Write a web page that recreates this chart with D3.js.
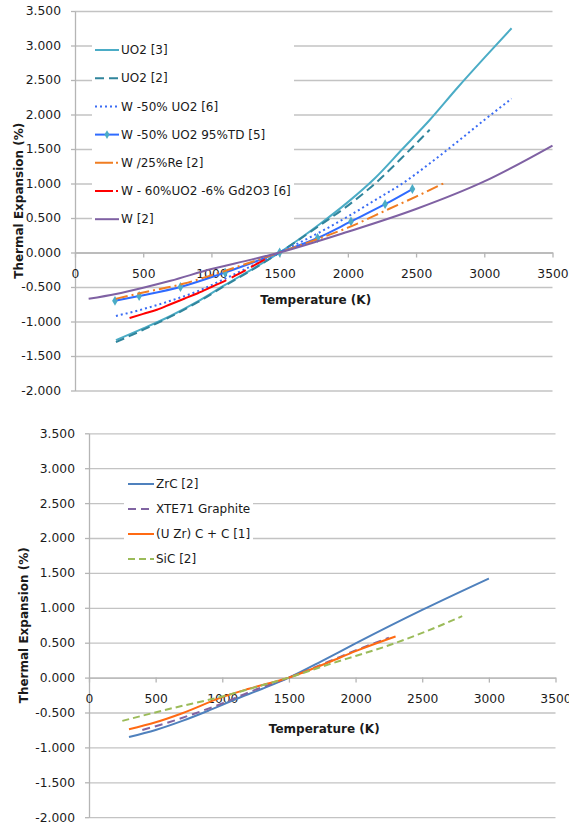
<!DOCTYPE html>
<html lang="en">
<head>
<meta charset="UTF-8">
<title>Thermal Expansion</title>
<script src="https://d3js.org/d3.v7.min.js"></script>
<style>
  body { margin: 0; background: #fff; }
  text { font-family: "DejaVu Sans", sans-serif; fill: #1a1a1a; }
</style>
</head>
<body>
<div id="chart"></div>
<script>
// shared axis ticks
var tempTicks = [0, 500, 1000, 1500, 2000, 2500, 3000, 3500];
var expTicks = [-2, -1.5, -1, -0.5, 0, 0.5, 1, 1.5, 2, 2.5, 3, 3.5];

// top chart series: [temperature K, expansion %]
var uo2Ref3 = [[300,-1.27],[500,-1.10],[700,-0.92],[900,-0.71],[1100,-0.47],[1300,-0.24],[1500,0],[1800,0.42],[2000,0.73],[2200,1.08],[2400,1.50],[2600,1.92],[2800,2.38],[3000,2.82],[3200,3.25]];
var uo2Ref2 = [[300,-1.30],[500,-1.12],[700,-0.93],[900,-0.72],[1100,-0.48],[1300,-0.25],[1500,0],[1800,0.40],[2000,0.68],[2200,1.00],[2400,1.38],[2600,1.78]];
var w50uo2 = [[300,-0.92],[500,-0.82],[700,-0.70],[900,-0.56],[1100,-0.38],[1300,-0.19],[1500,0],[1800,0.30],[2000,0.52],[2200,0.76],[2400,1.00],[2600,1.29],[2800,1.60],[3000,1.92],[3200,2.23]];
var w50uo2td = [[293,-0.70],[470,-0.63],[773,-0.50],[1100,-0.29],[1500,0],[1778,0.21],[2023,0.45],[2273,0.70],[2473,0.92]];
var w25re = [[300,-0.67],[500,-0.58],[800,-0.45],[1000,-0.33],[1200,-0.20],[1500,0],[1800,0.21],[2000,0.36],[2300,0.63],[2500,0.81],[2700,1.00]];
var wUo2Gd = [[400,-0.95],[500,-0.89],[600,-0.83],[700,-0.75],[800,-0.67],[900,-0.59],[1000,-0.50],[1100,-0.41],[1200,-0.31],[1300,-0.20],[1400,-0.09]];
var wRef2 = [[100,-0.67],[300,-0.60],[500,-0.51],[700,-0.41],[1000,-0.24],[1300,-0.10],[1500,0],[2000,0.30],[2500,0.63],[3000,1.03],[3500,1.55]];

// bottom chart series
var zrc = [[300,-0.85],[500,-0.75],[700,-0.62],[900,-0.47],[1100,-0.31],[1300,-0.16],[1500,0],[1750,0.24],[2000,0.49],[2500,0.97],[3000,1.42]];
var xte71 = [[400,-0.75],[600,-0.64],[800,-0.51],[1000,-0.37],[1200,-0.21],[1500,0],[1800,0.23],[2000,0.39],[2250,0.57]];
var uzrc = [[300,-0.74],[500,-0.64],[700,-0.51],[1000,-0.28],[1200,-0.16],[1500,0],[1800,0.22],[2000,0.38],[2300,0.59]];
var sic = [[250,-0.62],[600,-0.45],[1000,-0.27],[1300,-0.11],[1500,0],[1800,0.19],[2000,0.31],[2200,0.43],[2500,0.64],[2800,0.88]];

var topSeries = [
  { name: "UO2 [3]", data: uo2Ref3, color: "#4bacc6", dash: null },
  { name: "UO2 [2]", data: uo2Ref2, color: "#31859c", dash: "9,5" },
  { name: "W -50% UO2 [6]", data: w50uo2, color: "#3a6cf4", dash: "2,3" },
  { name: "W -50% UO2 95%TD [5]", data: w50uo2td, color: "#2f6bff", dash: null, marker: "#4bacc6" },
  { name: "W /25%Re [2]", data: w25re, color: "#f07d22", dash: "12,4,2,4", legendDash: "18,3,2,40" },
  { name: "W - 60%UO2 -6% Gd2O3 [6]", data: wUo2Gd, color: "#ff0000", dash: "104,6,16,6,16,6", legendDash: "18,3,2,40" },
  { name: "W [2]", data: wRef2, color: "#7f61a3", dash: null }
];

var bottomSeries = [
  { name: "ZrC [2]", data: zrc, color: "#4f81bd", dash: null },
  { name: "XTE71 Graphite", data: xte71, color: "#8064a2", dash: "8,5" },
  { name: "(U Zr) C + C [1]", data: uzrc, color: "#ff6a13", dash: null },
  { name: "SiC [2]", data: sic, color: "#9bbb59", dash: "7,4" }
];

var svg = d3.select("#chart").append("svg")
  .attr("width", 569)
  .attr("height", 825);

function drawChart(opt) {
  var x = d3.scaleLinear().domain([0, 3500]).range([opt.left, opt.right]);
  var y = d3.scaleLinear().domain([-2, 3.5]).range([opt.bottom, opt.top]);
  var g = svg.append("g");

  // horizontal gridlines
  g.append("g")
    .attr("transform", "translate(" + opt.left + ",0)")
    .call(d3.axisLeft(y).tickValues(expTicks).tickSize(-(opt.right - opt.left)).tickFormat(""))
    .call(function (a) {
      a.select(".domain").remove();
      a.selectAll("line").attr("stroke", "#c3c3c3").attr("stroke-width", 1.3);
    });

  // y axis
  g.append("g")
    .attr("transform", "translate(" + opt.left + ",0)")
    .call(d3.axisLeft(y).tickValues(expTicks).tickSize(4).tickSizeOuter(0).tickPadding(10)
      .tickFormat(function (d) { return d3.format(".3f")(d).replace("−", "-"); }))
    .call(function (a) {
      a.select(".domain").attr("stroke", "#b5b5b5").attr("stroke-width", 1.3);
      a.selectAll("line").attr("stroke", "#b5b5b5").attr("stroke-width", 1.3);
      a.selectAll("text").attr("font-size", 12.3).attr("font-family", "DejaVu Sans").attr("fill", "#1a1a1a");
    });

  // x axis at zero
  g.append("g")
    .attr("transform", "translate(0," + y(0) + ")")
    .call(d3.axisBottom(x).tickValues(tempTicks).tickSize(5).tickSizeOuter(0).tickPadding(12)
      .tickFormat(d3.format("d")))
    .call(function (a) {
      a.select(".domain").attr("stroke", "#b5b5b5").attr("stroke-width", 1.3);
      a.selectAll("line").attr("stroke", "#b5b5b5").attr("stroke-width", 1.3);
      a.selectAll("text").attr("font-size", 12.3).attr("font-family", "DejaVu Sans").attr("fill", "#1a1a1a");
    });

  var line = d3.line()
    .x(function (d) { return x(d[0]); })
    .y(function (d) { return y(d[1]); })
    .curve(d3.curveMonotoneX);

  opt.series.forEach(function (s) {
    g.append("path")
      .attr("d", line(s.data))
      .attr("fill", "none")
      .attr("stroke", s.color)
      .attr("stroke-width", 2)
      .attr("stroke-dasharray", s.dash);
    if (s.marker) {
      g.selectAll(null).data(s.data).enter().append("path")
        .attr("d", d3.symbol().type(d3.symbolDiamond).size(28))
        .attr("transform", function (d) { return "translate(" + x(d[0]) + "," + y(d[1]) + ")"; })
        .attr("fill", s.marker);
    }
  });

  // legend
  var lg = g.append("g");
  lg.append("rect")
    .attr("x", opt.legend.x0).attr("y", opt.legend.y0)
    .attr("width", opt.legend.w).attr("height", opt.legend.h)
    .attr("fill", "#fff");
  var item = lg.selectAll(".item").data(opt.series).enter().append("g")
    .attr("transform", function (d, i) { return "translate(0," + (opt.legend.y + i * opt.legend.step) + ")"; });
  item.append("line")
    .attr("x1", opt.legend.x).attr("x2", opt.legend.x + opt.legend.len)
    .attr("stroke", function (d) { return d.color; })
    .attr("stroke-width", 2)
    .attr("stroke-dasharray", function (d) { return d.legendDash || d.dash; });
  item.filter(function (d) { return d.marker; }).append("path")
    .attr("d", d3.symbol().type(d3.symbolDiamond).size(22))
    .attr("transform", "translate(" + (opt.legend.x + opt.legend.len / 2) + ",0)")
    .attr("fill", function (d) { return d.marker; });
  item.append("text")
    .attr("x", opt.legend.x + opt.legend.len + 2)
    .attr("dy", "0.35em")
    .attr("font-size", 12)
    .text(function (d) { return d.name; });

  // axis titles
  g.append("text")
    .attr("x", (opt.left + opt.right) / 2 + 2)
    .attr("y", opt.xTitleY)
    .attr("text-anchor", "middle")
    .attr("font-size", 12)
    .attr("font-weight", "bold")
    .text("Temperature (K)");
  g.append("text")
    .attr("transform", "translate(" + opt.yTitleX + "," + ((opt.top + opt.bottom) / 2) + ") rotate(-90)")
    .attr("text-anchor", "middle")
    .attr("font-size", 12)
    .attr("font-weight", "bold")
    .text("Thermal Expansion (%)");
}

drawChart({
  left: 75, right: 552.5, top: 11, bottom: 390.5,
  series: topSeries,
  legend: { x0: 92, y0: 37, w: 202, h: 196, x: 95, len: 24, y: 50, step: 28.2 },
  xTitleY: 304, yTitleX: 23
});

drawChart({
  left: 89, right: 555.5, top: 433.3, bottom: 817.2,
  series: bottomSeries,
  legend: { x0: 124, y0: 472, w: 129, h: 98, x: 128, len: 26, y: 484, step: 25 },
  xTitleY: 733, yTitleX: 28
});
</script>
</body>
</html>
